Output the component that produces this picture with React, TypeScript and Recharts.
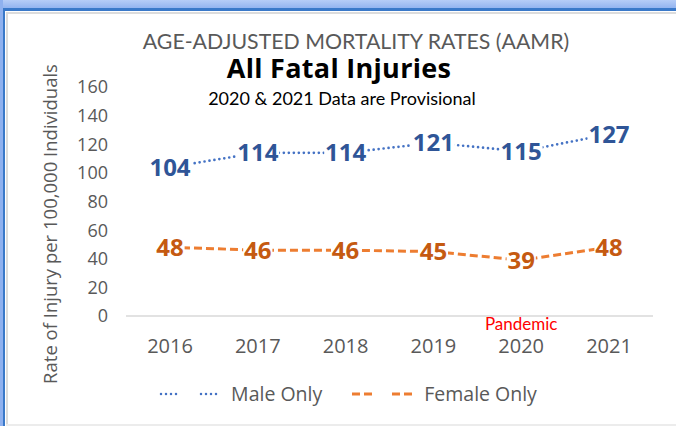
import React from "react";
import { LineChart, Line, XAxis, YAxis, LabelList, ReferenceDot } from "recharts";

const years = ["2016", "2017", "2018", "2019", "2020", "2021"];
const maleOnly = [104, 114, 114, 121, 115, 127];
const femaleOnly = [48, 46, 46, 45, 39, 48];
const yTicks = [0, 20, 40, 60, 80, 100, 120, 140, 160];

const data = years.map((year, i) => ({ year, male: maleOnly[i], female: femaleOnly[i] }));

const MALE_TEXT = "#2F5597";
const MALE_LINE = "#4472C4";
const FEMALE_TEXT = "#C55A11";
const FEMALE_LINE = "#ED7D31";
const GRAY = "#595959";
const FONT = "'Open Sans', sans-serif";

// data label centred on the point, with a white box so the line stops at the text
const boxedLabel = (color: string) => (props: any) => {
  const { x, y, value } = props;
  const text = String(value);
  const w = text.length * 13.6 + 2;
  return (
    <g>
      <rect x={x - w / 2} y={y - 11} width={w} height={22} fill="#fff" />
      <text x={x} y={y} dy="0.36em" textAnchor="middle" fill={color} fontFamily={FONT} fontWeight={700} fontSize={24}>
        {text}
      </text>
    </g>
  );
};

export default function App() {
  return (
    <div style={{ position: "absolute", left: 0, top: 0, width: 676, height: 426, background: "#fff", overflow: "hidden" }}>
      {/* window frame */}
      <div style={{ position: "absolute", left: 0, top: 0, width: 676, height: 9, background: "linear-gradient(#b6cdf7, #8fb1ef)" }} />
      <div style={{ position: "absolute", left: 0, top: 8, width: 676, height: 3, background: "#3a79c9" }} />
      <div style={{ position: "absolute", left: 0, top: 0, width: 3, height: 426, background: "#8fb1ef" }} />
      <div style={{ position: "absolute", left: 3, top: 8, width: 2, height: 418, background: "#3a79c9" }} />
      <div style={{ position: "absolute", left: 6, top: 12, width: 670, height: 2, background: "#dcdcdc" }} />
      <div style={{ position: "absolute", left: 6, top: 12, width: 2, height: 414, background: "#dcdcdc" }} />
      <div style={{ position: "absolute", left: 6, top: 424, width: 670, height: 2, background: "#ececec" }} />

      {/* titles */}
      <div style={{ position: "absolute", left: 0, top: 31, width: 712, lineHeight: 1, textAlign: "center", fontFamily: "Lato, sans-serif", fontSize: 21.3, color: GRAY }}>
        AGE-ADJUSTED MORTALITY RATES (AAMR)
      </div>
      <div style={{ position: "absolute", left: 0, top: 54, width: 678, lineHeight: 1, textAlign: "center", fontFamily: FONT, fontWeight: 700, fontSize: 27, letterSpacing: 0.3, color: "#000" }}>
        All Fatal Injuries
      </div>
      <div style={{ position: "absolute", left: 0, top: 89, width: 684, lineHeight: 1, textAlign: "center", fontFamily: "Lato, sans-serif", fontSize: 18, color: "#000" }}>
        2020 &amp; 2021 Data are Provisional
      </div>

      <div style={{ position: "absolute", left: 0, top: 0 }}>
        <LineChart width={676} height={426} data={data} margin={{ top: 87, right: 23, bottom: 70, left: 0 }}>
          <XAxis
            dataKey="year"
            padding={{ left: 44, right: 44 }}
            axisLine={{ stroke: "#d9d9d9", strokeWidth: 1.5 }}
            tickLine={false}
            tickSize={0}
            tickMargin={23}
            height={40}
            interval={0}
            tick={{ fill: GRAY, fontSize: 20, fontFamily: FONT }}
          />
          <YAxis
            domain={[0, 160]}
            ticks={yTicks}
            interval={0}
            width={126}
            axisLine={false}
            tickLine={false}
            tickSize={0}
            tickMargin={18}
            tick={{ fill: GRAY, fontSize: 18, fontFamily: FONT }}
            label={{
              content: () => (
                <text x={50} y={224} transform="rotate(-90 50 224)" textAnchor="middle" dy="0.36em" fill={GRAY} fontSize={18.5} fontFamily={FONT}>
                  Rate of Injury per 100,000 Individuals
                </text>
              ),
            }}
          />
          <ReferenceDot
            x="2020"
            y={0}
            r={0}
            isFront
            label={{ value: "Pandemic", position: "bottom", offset: 2, fill: "#FF0000", fontSize: 17, fontFamily: "Lato, sans-serif" }}
          />
          <Line
            type="linear"
            dataKey="male"
            name="Male Only"
            stroke={MALE_LINE}
            strokeWidth={2.7}
            strokeDasharray="0 5"
            strokeLinecap="round"
            dot={false}
            activeDot={false}
            isAnimationActive={false}
          >
            <LabelList dataKey="male" content={boxedLabel(MALE_TEXT)} />
          </Line>
          <Line
            type="linear"
            dataKey="female"
            name="Female Only"
            stroke={FEMALE_LINE}
            strokeWidth={3}
            strokeDasharray="8 4"
            dot={false}
            activeDot={false}
            isAnimationActive={false}
          >
            <LabelList dataKey="female" content={boxedLabel(FEMALE_TEXT)} />
          </Line>
        </LineChart>
      </div>

      {/* legend */}
      <div style={{ position: "absolute", left: 0, top: 380, width: 696, display: "flex", justifyContent: "center", alignItems: "center", fontFamily: FONT, fontSize: 19.5, color: GRAY }}>
        <svg width={64} height={10} style={{ marginRight: 8 }}>
          <line x1={2} y1={5} x2={22} y2={5} stroke={MALE_LINE} strokeWidth={2.5} strokeDasharray="0 5" strokeLinecap="round" />
          <line x1={42} y1={5} x2={62} y2={5} stroke={MALE_LINE} strokeWidth={2.5} strokeDasharray="0 5" strokeLinecap="round" />
        </svg>
        <span style={{ marginRight: 30 }}>Male Only</span>
        <svg width={64} height={10} style={{ marginRight: 8 }}>
          <line x1={0} y1={5} x2={24} y2={5} stroke={FEMALE_LINE} strokeWidth={3} strokeDasharray="8 4" />
          <line x1={40} y1={5} x2={64} y2={5} stroke={FEMALE_LINE} strokeWidth={3} strokeDasharray="8 4" />
        </svg>
        <span>Female Only</span>
      </div>
    </div>
  );
}
